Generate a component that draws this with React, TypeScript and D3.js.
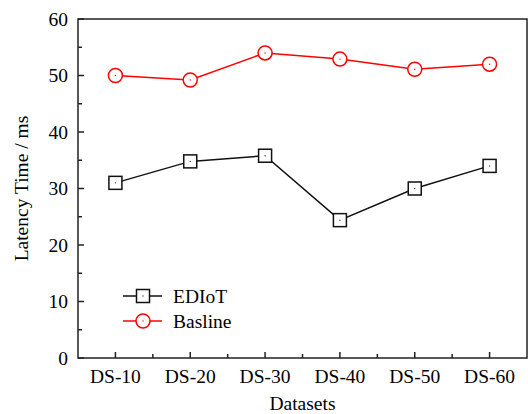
import React from "react";
import * as d3 from "d3";

const categories = ["DS-10", "DS-20", "DS-30", "DS-40", "DS-50", "DS-60"];
const ediotValues = [31.0, 34.8, 35.8, 24.4, 30.0, 34.0];
const baselineValues = [50.0, 49.2, 54.0, 52.9, 51.1, 52.0];
const yTicks = [0, 10, 20, 30, 40, 50, 60];
const yMinorTicks = [5, 15, 25, 35, 45, 55];

const W = 528, H = 414;
const m = { left: 78, right: 1, top: 19, bottom: 56 };
const FONT = "Liberation Serif, Times New Roman, Times, serif";

export default function App() {
  const x = d3.scalePoint<string>().domain(categories).range([m.left, W - m.right]).padding(0.5);
  const y = d3.scaleLinear().domain([0, 60]).range([H - m.bottom, m.top]);
  const step = x.step();
  const line = d3.line<number>().x((_, i) => x(categories[i])!).y(d => y(d));
  const bottom = H - m.bottom;
  const right = W - m.right;
  const minorX = categories.slice(0, -1).map(c => x(c)! + step / 2);
  const fs = 19.5;
  const ts: React.CSSProperties = { fontFamily: FONT, fontSize: fs };
  return (
    <svg width={W} height={H} style={{ position: "absolute", left: 0, top: 0, background: "#fff" }}>
      <rect x={m.left} y={m.top} width={right - m.left} height={bottom - m.top} fill="none" stroke="#222" strokeWidth={1.5} />
      {yTicks.map(t => (
        <g key={"y" + t}>
          <line x1={m.left} x2={m.left + 6} y1={y(t)} y2={y(t)} stroke="#222" strokeWidth={1.5} />
          <text x={m.left - 10} y={y(t)} dy="0.35em" textAnchor="end" style={ts}>{t}</text>
        </g>
      ))}
      {yMinorTicks.map(t => (
        <line key={"ym" + t} x1={m.left} x2={m.left + 4} y1={y(t)} y2={y(t)} stroke="#222" strokeWidth={1.5} />
      ))}
      {categories.map(c => (
        <g key={c}>
          <line x1={x(c)} x2={x(c)} y1={bottom} y2={bottom - 6} stroke="#222" strokeWidth={1.5} />
          <text x={x(c)} y={bottom + 25} textAnchor="middle" style={ts}>{c}</text>
        </g>
      ))}
      {minorX.map((mx, i) => (
        <line key={"xm" + i} x1={mx} x2={mx} y1={bottom} y2={bottom - 4} stroke="#222" strokeWidth={1.5} />
      ))}
      <text transform={`translate(28,${(m.top + bottom) / 2}) rotate(-90)`} textAnchor="middle" style={ts}>Latency Time / ms</text>
      <text x={(m.left + right) / 2} y={H - 4} textAnchor="middle" style={ts}>Datasets</text>

      <path d={line(ediotValues)!} fill="none" stroke="#111" strokeWidth={1.5} />
      {ediotValues.map((v, i) => (
        <g key={"e" + i}>
          <rect x={x(categories[i])! - 6.5} y={y(v) - 6.5} width={13} height={13} fill="#fff" stroke="#111" strokeWidth={1.5} />
          <circle cx={x(categories[i])} cy={y(v)} r={0.7} fill="#333" />
        </g>
      ))}
      <path d={line(baselineValues)!} fill="none" stroke="#f00" strokeWidth={1.5} />
      {baselineValues.map((v, i) => (
        <g key={"b" + i}>
          <circle cx={x(categories[i])} cy={y(v)} r={7} fill="#fff" stroke="#f00" strokeWidth={1.5} />
          <circle cx={x(categories[i])} cy={y(v)} r={0.7} fill="#f00" />
        </g>
      ))}

      <g>
        <line x1={123} x2={162} y1={296} y2={296} stroke="#111" strokeWidth={1.5} />
        <rect x={136.5} y={289.5} width={13} height={13} fill="#fff" stroke="#111" strokeWidth={1.5} />
        <circle cx={143} cy={296} r={0.7} fill="#333" />
        <text x={173} y={296} dy="0.35em" style={ts}>EDIoT</text>
        <line x1={123} x2={162} y1={321} y2={321} stroke="#f00" strokeWidth={1.5} />
        <circle cx={143} cy={321} r={7} fill="#fff" stroke="#f00" strokeWidth={1.5} />
        <circle cx={143} cy={321} r={0.7} fill="#f00" />
        <text x={173} y={321} dy="0.35em" style={ts}>Basline</text>
      </g>
    </svg>
  );
}
